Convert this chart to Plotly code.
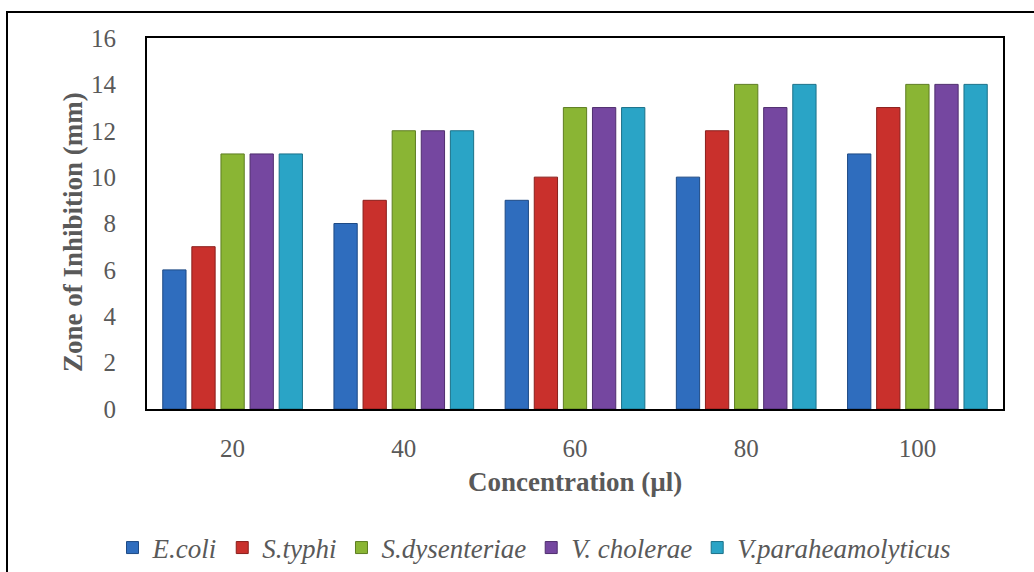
import plotly.graph_objects as go

categories = ["20", "40", "60", "80", "100"]
series_names = ["E.coli", "S.typhi", "S.dysenteriae", "V. cholerae", "V.paraheamolyticus"]
ecoli = [6, 8, 9, 10, 11]
styphi = [7, 9, 10, 12, 13]
sdys = [11, 12, 13, 14, 14]
vchol = [11, 12, 13, 13, 14]
vpara = [11, 12, 13, 14, 14]
y_ticks = [0, 2, 4, 6, 8, 10, 12, 14, 16]

colors = ["#2F6DBE", "#C9302C", "#8AB534", "#7547A0", "#2AA4C6"]
edge = ["#1E4A85", "#8A1F1C", "#5E7D22", "#4F2E6E", "#1B7189"]

fig = go.Figure()
for name, vals, c, e in zip(series_names, [ecoli, styphi, sdys, vchol, vpara], colors, edge):
    fig.add_trace(go.Bar(x=categories, y=vals, name=name,
                         marker=dict(color=c, line=dict(color=e, width=1))))

W, H = 1034, 572
L, R, T, B = 147, 1003, 38, 409
pw, ph = R - L, B - T

def px(x):
    return (x - L) / pw

def py(y):
    return (B - y) / ph

font = "Liberation Serif"
fig.update_layout(
    width=W, height=H,
    margin=dict(l=L, r=W - R, t=T, b=H - B, autoexpand=False),
    paper_bgcolor="white", plot_bgcolor="white",
    barmode="group", bargap=0.15, bargroupgap=0.2,
    font=dict(family=font, size=25, color="#595959"),
    showlegend=True,
    legend=dict(orientation="h", xref="paper", yref="paper",
                x=px(534), xanchor="center", y=py(548), yanchor="middle",
                font=dict(family=font, size=27, color="#595959", style="italic"),
                itemwidth=30, traceorder="normal", bgcolor="rgba(0,0,0,0)"),
    xaxis=dict(showline=True, linecolor="black", linewidth=2, mirror=True,
               tickfont=dict(family=font, size=25, color="#595959"), ticks="", ticklabelstandoff=16),
    yaxis=dict(range=[0, 16], tickvals=y_ticks, showline=True, linecolor="black", linewidth=2,
               mirror=True, showgrid=False, zeroline=False, ticks="",
               tickfont=dict(family=font, size=25, color="#595959"), ticklabelstandoff=24),
    annotations=[
        dict(text="<b>Concentration (µl)</b>", xref="paper", yref="paper", x=px(575), y=py(482),
             showarrow=False, font=dict(family=font, size=27, color="#595959"),
             xanchor="center", yanchor="middle"),
        dict(text="<b>Zone of Inhibition (mm)</b>", xref="paper", yref="paper", x=px(73), y=py(232),
             showarrow=False, textangle=-90, font=dict(family=font, size=27, color="#595959"),
             xanchor="center", yanchor="middle"),
    ],
    shapes=[dict(type="rect", xref="paper", yref="paper", x0=px(7), x1=px(1045), y0=py(585), y1=py(12),
                 line=dict(color="black", width=2), layer="below")],
)

fig.write_html("out.html")
